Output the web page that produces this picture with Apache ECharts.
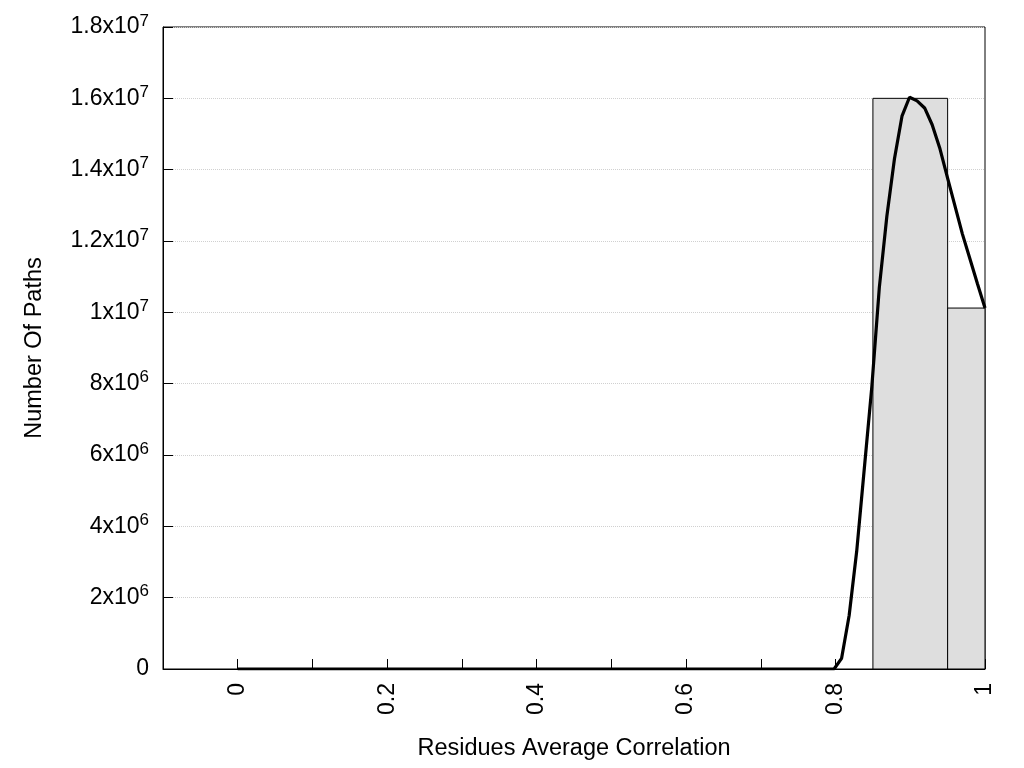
<!DOCTYPE html>
<html>
<head>
<meta charset="utf-8">
<script src="https://cdn.jsdelivr.net/npm/echarts@6/dist/echarts.min.js"></script>
<style>html,body{margin:0;padding:0;background:#fff;}#c{width:1024px;height:768px;}</style>
</head>
<body>
<div id="c"></div>
<script>
// Histogram bins
const binStart = [0.85, 0.95];
const binEnd = [0.95, 1.05];
const binCount = [16000000, 10120000];
// Fitted curve samples
const curveX = [0, 0.7980, 0.8081, 0.8182, 0.8283, 0.8384, 0.8485, 0.8586, 0.8687, 0.8788, 0.8889, 0.8990, 0.9091, 0.9192, 0.9293, 0.9394, 0.9495, 0.9596, 0.9697, 0.9798, 0.9899, 1.0];
const curveY = [0, 0, 300000, 1500000, 3300000, 5600000, 7900000, 10700000, 12700000, 14300000, 15500000, 16030000, 15930000, 15730000, 15260000, 14610000, 13800000, 13000000, 12200000, 11500000, 10800000, 10120000];
// Axis ticks
const xTickLabels = ['0', '0.2', '0.4', '0.6', '0.8', '1'];

const FONT = 'Liberation Sans, Arial, sans-serif';
const chart = echarts.init(document.getElementById('c'), null, {renderer: 'canvas'});

function yFmt(v) {
  if (v === 0) return '{m|0}';
  const e = Math.floor(Math.log10(v) + 1e-9);
  const m = v / Math.pow(10, e);
  const ms = Math.abs(m - Math.round(m)) < 1e-9 ? String(Math.round(m)) : m.toFixed(1);
  return '{m|' + ms + 'x10}{e|' + e + '}';
}

const histData = binStart.map((s, i) => [s, binEnd[i], binCount[i]]);
const lineData = curveX.map((x, i) => [x, curveY[i]]);

chart.setOption({
  animation: false,
  backgroundColor: '#fff',
  grid: {left: 163, right: 39, top: 27, bottom: 99, show: true, borderColor: '#000', borderWidth: 1, backgroundColor: 'transparent'},
  xAxis: {
    type: 'value', min: -0.1, max: 1, interval: 0.1,
    name: 'Residues Average Correlation', nameLocation: 'middle', nameGap: 68,
    nameTextStyle: {fontFamily: FONT, fontSize: 23.5, color: '#000'},
    axisLine: {show: true, onZero: false, lineStyle: {color: '#000', width: 1}},
    axisTick: {show: true, inside: true, length: 10, lineStyle: {color: '#000', width: 1}},
    splitLine: {show: false},
    axisLabel: {
      rotate: 90, margin: 14, fontFamily: FONT, fontSize: 23, color: '#000',
      showMinLabel: true, showMaxLabel: true,
      formatter: function (v) {
        const t = Math.round(v * 10);
        if (t < 0 || t % 2 !== 0) return '';
        return xTickLabels[t / 2] || '';
      }
    }
  },
  yAxis: {
    type: 'value', min: 0, max: 18000000, interval: 2000000,
    name: 'Number Of Paths', nameLocation: 'middle', nameGap: 116, nameRotate: 90,
    nameTextStyle: {fontFamily: FONT, fontSize: 23.5, color: '#000'},
    axisLine: {show: true, onZero: false, lineStyle: {color: '#000', width: 1}},
    axisTick: {show: true, inside: true, length: 10, lineStyle: {color: '#000', width: 1}},
    splitLine: {show: true, lineStyle: {color: '#d0d0d0', type: 'dotted', width: 1}},
    axisLabel: {
      margin: 14, color: '#000',
      formatter: yFmt,
      rich: {
        m: {fontFamily: FONT, fontSize: 23, lineHeight: 23, color: '#000', verticalAlign: 'bottom'},
        e: {fontFamily: FONT, fontSize: 17, lineHeight: 17, color: '#000', verticalAlign: 'bottom', padding: [0, 0, 9, 0]}
      }
    }
  },
  series: [
    {
      type: 'custom',
      z: 2,
      encode: {x: [0, 1], y: 2},
      data: histData,
      renderItem: function (params, api) {
        const p0 = api.coord([api.value(0), api.value(2)]);
        const p1 = api.coord([api.value(1), 0]);
        const rect = echarts.graphic.clipRectByRect({
          x: p0[0], y: p0[1], width: p1[0] - p0[0], height: p1[1] - p0[1]
        }, {
          x: params.coordSys.x, y: params.coordSys.y,
          width: params.coordSys.width, height: params.coordSys.height
        });
        if (!rect) return null;
        return {type: 'rect', shape: rect, style: {fill: '#dedede', stroke: '#000', lineWidth: 1}};
      }
    },
    {
      type: 'line',
      z: 3,
      data: lineData,
      showSymbol: false,
      symbol: 'none',
      smooth: false,
      lineStyle: {color: '#000', width: 3.2},
      clip: true
    }
  ]
});
</script>
</body>
</html>
